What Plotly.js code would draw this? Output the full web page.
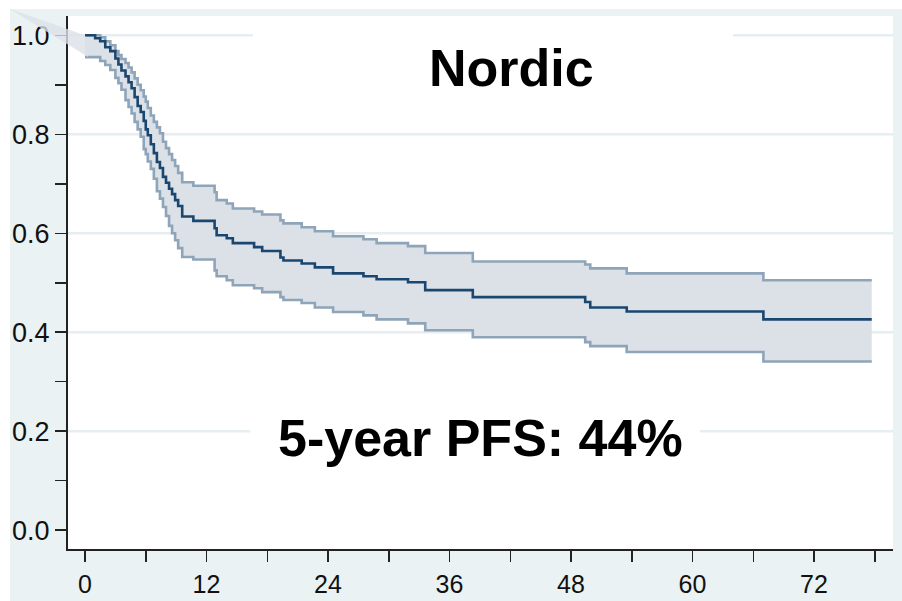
<!DOCTYPE html>
<html>
<head>
<meta charset="utf-8">
<script src="https://cdn.plot.ly/plotly-3.0.1.min.js"></script>
<style>
  html, body { margin: 0; padding: 0; background: #ffffff; }
  #chart { position: absolute; left: 10px; top: 9px; width: 892px; height: 592px; }
</style>
</head>
<body>
<div id="chart"></div>
<script>
// ---- Data (months since start; Kaplan-Meier PFS with 95% CI) ----
const months = [0, 1.0, 1.5, 2.0, 2.5, 3.0, 3.3, 3.6, 4.0, 4.3, 4.6, 4.9, 5.2, 5.5, 5.8, 6.0, 6.2, 6.5, 6.8, 7.1, 7.4, 7.7, 8.0, 8.3, 8.6, 8.9, 9.2, 9.6, 10.7, 12.8, 13.0, 14.0, 14.6, 16.7, 17.5, 19.3, 19.6, 21.4, 22.7, 24.5, 27.5, 28.8, 31.9, 33.6, 38.3, 49.4, 49.9, 53.5, 67.0, 77.7];
const survival = [1.0, 0.994, 0.988, 0.976, 0.968, 0.953, 0.941, 0.929, 0.917, 0.905, 0.893, 0.875, 0.857, 0.845, 0.827, 0.810, 0.798, 0.780, 0.762, 0.744, 0.732, 0.714, 0.702, 0.690, 0.679, 0.667, 0.655, 0.634, 0.625, 0.610, 0.596, 0.590, 0.580, 0.572, 0.564, 0.551, 0.545, 0.539, 0.531, 0.519, 0.513, 0.507, 0.501, 0.485, 0.471, 0.461, 0.450, 0.442, 0.426, 0.426];
const upperCI = [1.0, 1.0, 0.996, 0.988, 0.980, 0.968, 0.960, 0.952, 0.944, 0.935, 0.925, 0.913, 0.900, 0.889, 0.876, 0.866, 0.853, 0.838, 0.825, 0.814, 0.802, 0.785, 0.772, 0.760, 0.748, 0.736, 0.722, 0.703, 0.696, 0.683, 0.667, 0.660, 0.650, 0.644, 0.638, 0.626, 0.620, 0.612, 0.604, 0.594, 0.588, 0.580, 0.574, 0.560, 0.543, 0.537, 0.529, 0.519, 0.505, 0.505];
const lowerCI = [0.956, 0.956, 0.948, 0.940, 0.930, 0.914, 0.903, 0.890, 0.869, 0.855, 0.842, 0.825, 0.810, 0.795, 0.770, 0.760, 0.745, 0.730, 0.710, 0.685, 0.670, 0.653, 0.635, 0.615, 0.600, 0.586, 0.570, 0.552, 0.547, 0.525, 0.513, 0.505, 0.495, 0.489, 0.481, 0.471, 0.465, 0.459, 0.450, 0.441, 0.434, 0.426, 0.418, 0.404, 0.390, 0.380, 0.372, 0.360, 0.341, 0.341];
const gridValues = [0.2, 0.4, 0.6, 0.8, 1.0];
const titleText = "Nordic";
const pfsText = "5-year PFS: 44%";

// ---- Styling ----
const bgColor = "#eaf2f3";
const bandColor = "#dce1e8";
const ciLineColor = "#8ea4b8";
const mainColor = "#1a476f";
const axisColor = "#222222";
const fontFamily = "Liberation Sans, Arial, Helvetica, sans-serif";

const xRange = [-1.68, 79.8];
const yRange = [-0.038, 1.039];
const margin = {l: 58, r: 9, t: 7, b: 52};
const W = 892, H = 592;
const plotW = W - margin.l - margin.r, plotH = H - margin.t - margin.b;

const traces = [
  {x: months, y: lowerCI, mode: "lines", line: {shape: "hv", color: ciLineColor, width: 2.6},
   hoverinfo: "skip", showlegend: false},
  {x: months, y: upperCI, mode: "lines", fill: "tonexty", fillcolor: bandColor,
   line: {shape: "hv", color: ciLineColor, width: 2.6}, hoverinfo: "skip", showlegend: false},
  {x: months, y: survival, mode: "lines", line: {shape: "hv", color: mainColor, width: 2.6},
   showlegend: false}
];

// convert data coords to paper coords (for the band wedge which leaks outside the plot)
const px = t => (t - xRange[0]) / (xRange[1] - xRange[0]);
const py = v => (v - yRange[0]) / (yRange[1] - yRange[0]);
const cornerX = -margin.l / plotW, cornerY = 1 + margin.t / plotH;

const shapes = [];
gridValues.forEach(v => shapes.push({
  type: "line", xref: "paper", yref: "y", x0: 0, x1: 1, y0: v, y1: v,
  line: {color: "#e6eef1", width: 2.5}, layer: "below"
}));
// white text boxes hiding the gridline behind the texts
shapes.push({type: "rect", xref: "paper", yref: "y", x0: 0.224, x1: 0.806, y0: 0.975, y1: 1.025,
  fillcolor: "#ffffff", line: {width: 0}, layer: "below"});
shapes.push({type: "rect", xref: "paper", yref: "y", x0: 0.221, x1: 0.766, y0: 0.175, y1: 0.225,
  fillcolor: "#ffffff", line: {width: 0}, layer: "below"});
// wedge of the CI band drawn towards the graph corner
shapes.push({type: "path", xref: "paper", yref: "paper",
  path: `M ${cornerX} ${cornerY} L ${px(months[0])} ${py(upperCI[0])} L ${px(months[0] + 0.3)} ${py(lowerCI[0])} Z`,
  fillcolor: bandColor, line: {width: 0}, layer: "above", opacity: 0.8});

const layout = {
  width: W, height: H,
  margin: margin,
  paper_bgcolor: bgColor,
  plot_bgcolor: "#ffffff",
  showlegend: false,
  font: {family: fontFamily, color: "#111111", size: 25},
  xaxis: {
    range: xRange, tick0: 0, dtick: 12, ticks: "outside", ticklen: 11, tickwidth: 1.5, tickcolor: axisColor,
    showline: true, linecolor: axisColor, linewidth: 2, showgrid: false, zeroline: false,
    ticklabelstandoff: 1,
    minor: {tick0: 0, dtick: 6, ticks: "outside", ticklen: 11, tickwidth: 1.5, tickcolor: axisColor, showgrid: false},
    tickfont: {family: fontFamily, size: 25, color: "#111111"}
  },
  yaxis: {
    range: yRange, tick0: 0, dtick: 0.2, tickformat: ".1f", ticks: "outside", ticklen: 11, tickwidth: 1.5,
    tickcolor: axisColor, showline: true, linecolor: axisColor, linewidth: 2, showgrid: false, zeroline: false,
    ticklabelstandoff: 0,
    minor: {tick0: 0, dtick: 0.1, ticks: "outside", ticklen: 11, tickwidth: 1.5, tickcolor: axisColor, showgrid: false},
    tickfont: {family: fontFamily, size: 27, color: "#111111"}
  },
  shapes: shapes,
  annotations: [
    {text: titleText, xref: "paper", yref: "y", x: 0.537, y: 0.933, xanchor: "center", yanchor: "middle",
     showarrow: false, font: {family: fontFamily, size: 52, color: "#000000", weight: "bold"}},
    {text: pfsText, xref: "paper", yref: "y", x: 0.5, y: 0.186, xanchor: "center", yanchor: "middle",
     showarrow: false, font: {family: fontFamily, size: 52, color: "#000000", weight: "bold"}}
  ]
};

Plotly.newPlot("chart", traces, layout, {staticPlot: true, displayModeBar: false});
</script>
</body>
</html>
